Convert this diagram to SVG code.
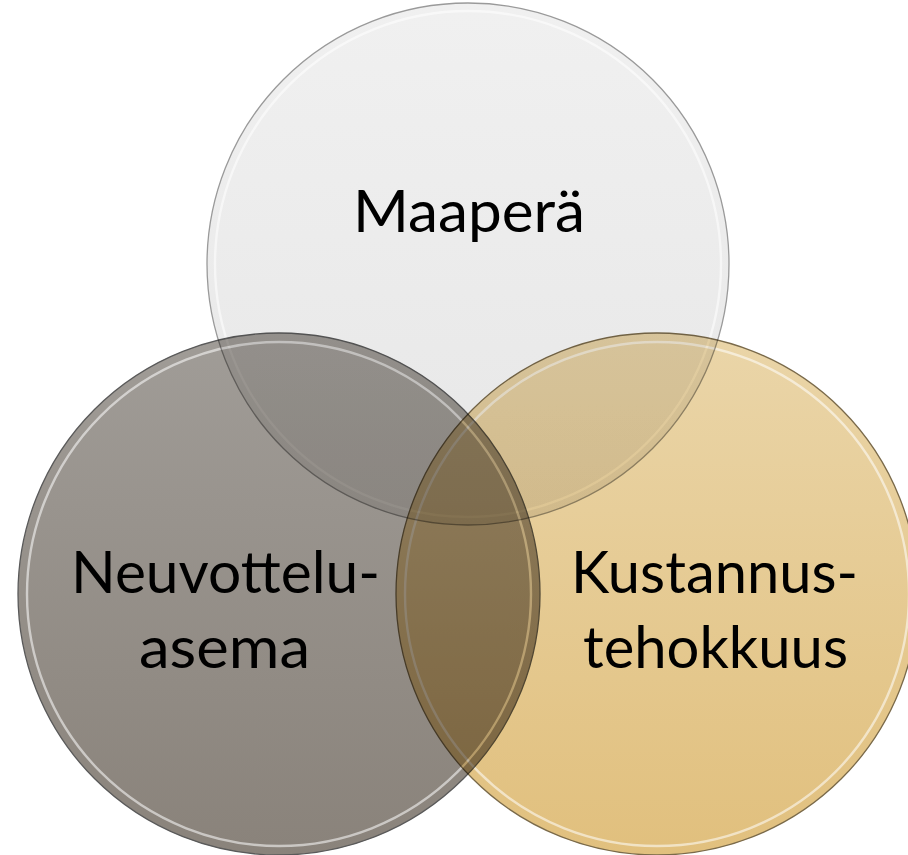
<svg xmlns="http://www.w3.org/2000/svg" width="908" height="855" viewBox="0 0 908 855">
<style>
.blend{mix-blend-mode:multiply}
.edge{stroke-width:1.3}
.ring{stroke:#ffffff;stroke-width:2.4;stroke-opacity:0.55}
.lbl{font-family:Lato,"Liberation Sans",sans-serif;font-size:58px;fill:#000000}
</style>
<defs>
<linearGradient id="gT" x1="0" y1="0" x2="0" y2="1">
<stop offset="0" stop-color="#f0f0f0"/>
<stop offset="1" stop-color="#e7e7e7"/>
</linearGradient>
<linearGradient id="gL" x1="0" y1="0" x2="0" y2="1">
<stop offset="0" stop-color="#a09c97"/>
<stop offset="1" stop-color="#8a837b"/>
</linearGradient>
<linearGradient id="gR" x1="0" y1="0" x2="0" y2="1">
<stop offset="0" stop-color="#ead5a8"/>
<stop offset="1" stop-color="#e1c07e"/>
</linearGradient>
</defs>
<rect width="908" height="855" fill="#ffffff"/>
<g id="node-maapera" class="blend">
<circle cx="468" cy="264" r="261" fill="url(#gT)" class="edge" stroke="#9a9a9a"/>
<circle cx="468" cy="264" r="253" fill="url(#gT)" class="ring"/>
<text class="lbl" x="353" y="232" textLength="232" lengthAdjust="spacingAndGlyphs">Maaperä</text>
</g>
<g id="node-neuvotteluasema" class="blend">
<circle cx="279" cy="594" r="261" fill="url(#gL)" class="edge" stroke="#5a5a5a"/>
<circle cx="279" cy="594" r="252" fill="url(#gL)" class="ring"/>
<text class="lbl" x="71" y="593" textLength="309" lengthAdjust="spacingAndGlyphs">Neuvottelu-</text>
<text class="lbl" x="139" y="668" textLength="171" lengthAdjust="spacingAndGlyphs">asema</text>
</g>
<g id="node-kustannustehokkuus" class="blend">
<circle cx="657" cy="594" r="261" fill="url(#gR)" class="edge" stroke="#7a6a4a"/>
<circle cx="657" cy="594" r="252" fill="url(#gR)" class="ring"/>
<text class="lbl" x="571" y="593" textLength="287" lengthAdjust="spacingAndGlyphs">Kustannus-</text>
<text class="lbl" x="583" y="668" textLength="265" lengthAdjust="spacingAndGlyphs">tehokkuus</text>
</g>
<g id="connectors"/>
</svg>
